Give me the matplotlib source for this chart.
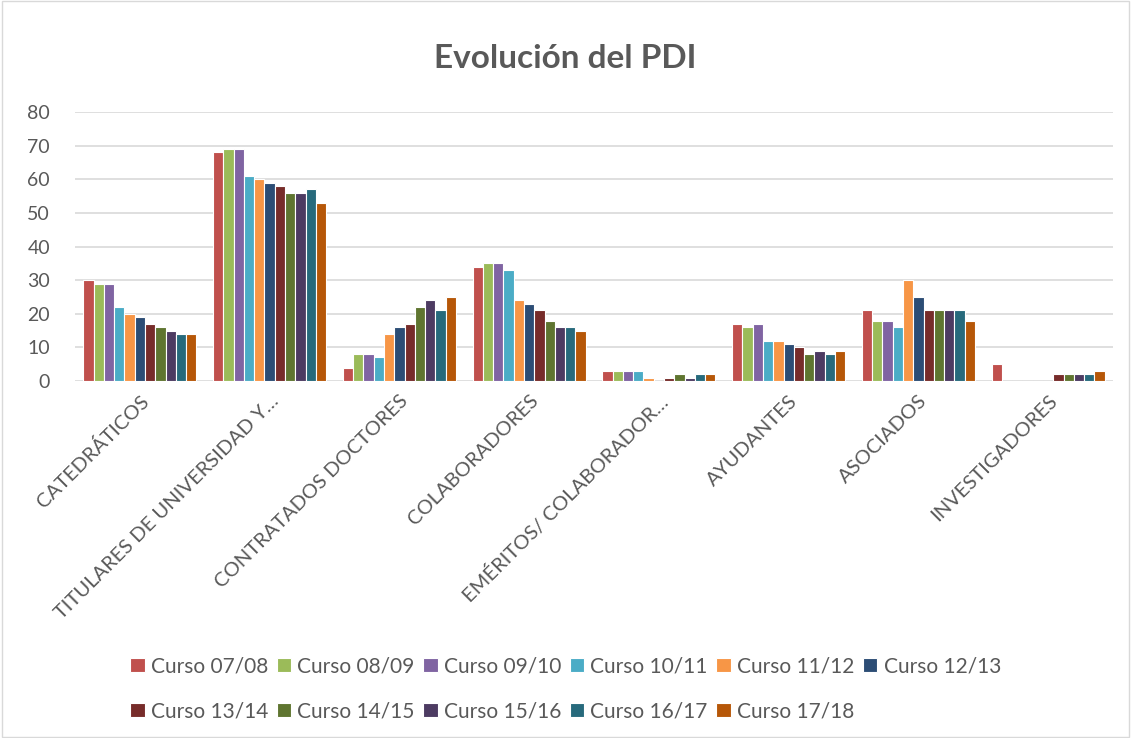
import numpy as np
import matplotlib
matplotlib.use('Agg')
import matplotlib.pyplot as plt
from matplotlib.patches import Rectangle

plt.rcParams['font.family'] = ['Lato', 'DejaVu Sans']

categories = ['CATEDRÁTICOS', 'TITULARES DE UNIVERSIDAD Y…', 'CONTRATADOS DOCTORES',
              'COLABORADORES', 'EMÉRITOS/ COLABORADOR…', 'AYUDANTES', 'ASOCIADOS',
              'INVESTIGADORES']

cursos = ['Curso 07/08', 'Curso 08/09', 'Curso 09/10', 'Curso 10/11', 'Curso 11/12',
          'Curso 12/13', 'Curso 13/14', 'Curso 14/15', 'Curso 15/16', 'Curso 16/17',
          'Curso 17/18']

colors = ['#c0504d', '#9bbb59', '#8064a2', '#4bacc6', '#f79646', '#2c4d75',
          '#772c2a', '#5f7530', '#4d3b62', '#276a7c', '#b65708']

# one list per category, values per course
catedraticos = [30, 29, 29, 22, 20, 19, 17, 16, 15, 14, 14]
titulares = [68, 69, 69, 61, 60, 59, 58, 56, 56, 57, 53]
contratados = [4, 8, 8, 7, 14, 16, 17, 22, 24, 21, 25]
colaboradores = [34, 35, 35, 33, 24, 23, 21, 18, 16, 16, 15]
emeritos = [3, 3, 3, 3, 1, 0, 1, 2, 1, 2, 2]
ayudantes = [17, 16, 17, 12, 12, 11, 10, 8, 9, 8, 9]
asociados = [21, 18, 18, 16, 30, 25, 21, 21, 21, 21, 18]
investigadores = [5, 0, 0, 0, 0, 0, 2, 2, 2, 2, 3]

data = np.array([catedraticos, titulares, contratados, colaboradores,
                 emeritos, ayudantes, asociados, investigadores])

text_color = '#595959'

fig = plt.figure(figsize=(11.31, 7.38), dpi=100)
ax = fig.add_axes([0.0663, 0.4837, 0.9178, 0.3645])

x = np.arange(len(categories))
n = len(cursos)
group = 0.87
w = group / n
handles = []
for i, curso in enumerate(cursos):
    offs = -group / 2 + w * (i + 0.5)
    b = ax.bar(x + offs, data[:, i], width=w, color=colors[i], edgecolor='white',
               linewidth=0.8, label=curso, zorder=3)
    handles.append(b)

ax.set_xlim(-0.5, len(categories) - 0.5)
ax.set_ylim(0, 80)
ax.set_yticks(range(0, 81, 10))
ax.yaxis.grid(True, color='#d9d9d9', linewidth=1.2, zorder=0)
for s in ax.spines.values():
    s.set_visible(False)
ax.tick_params(axis='both', length=0, colors=text_color)
ax.tick_params(axis='y', pad=18, labelsize=14)
ax.set_xticks(x)
ax.set_xticklabels(categories, rotation=45, ha='right', rotation_mode='anchor',
                   fontsize=14.5, color=text_color)
ax.tick_params(axis='x', pad=8)

fig.text(0.5, 0.921, 'Evolución del PDI', ha='center', va='center', fontsize=24,
         fontweight='bold', color=text_color)

# legend filled row by row, 6 per row
order = [0, 6, 1, 7, 2, 8, 3, 9, 4, 10, 5]
ax.legend([handles[k] for k in order], [cursos[k] for k in order],
          loc='upper center', bbox_to_anchor=(0.5, 0.136), bbox_transform=fig.transFigure,
          ncol=6, frameon=False, fontsize=15, handlelength=0.7, handleheight=0.7,
          handletextpad=0.3, columnspacing=0.4, labelspacing=1.2, labelcolor=text_color)

fig.patches.append(Rectangle((0.002, 0.002), 0.996, 0.996, transform=fig.transFigure,
                             fill=False, edgecolor='#d9d9d9', linewidth=1))

fig.savefig('out.png', dpi=100)
